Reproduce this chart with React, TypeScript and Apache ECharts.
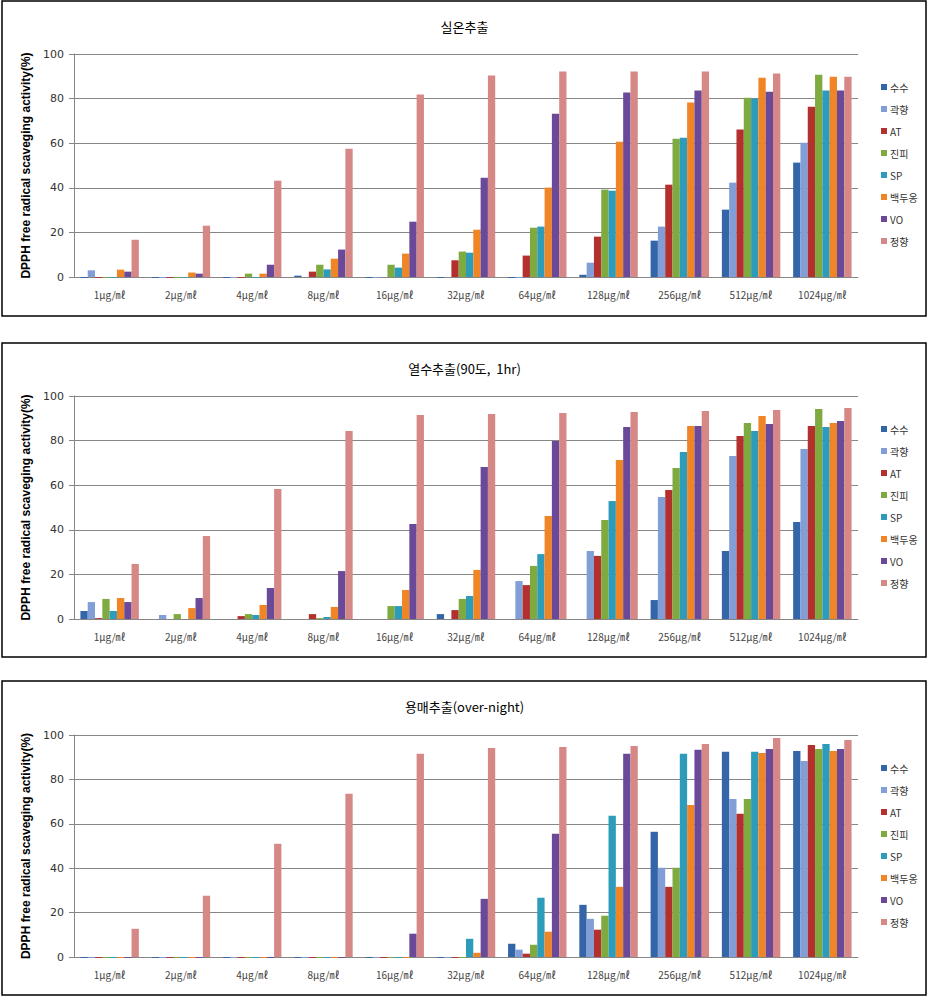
import React, { useEffect, useRef } from "react";
import * as echarts from "echarts";

const categories = ["1μg/㎖", "2μg/㎖", "4μg/㎖", "8μg/㎖", "16μg/㎖", "32μg/㎖", "64μg/㎖", "128μg/㎖", "256μg/㎖", "512μg/㎖", "1024μg/㎖"];
const seriesNames = ["수수", "곽향", "AT", "진피", "SP", "백두옹", "VO", "정향"];
const seriesColors = ["#3465A8", "#819FD6", "#B3302E", "#7EAA3F", "#2D9CBA", "#F08526", "#6A4A98", "#D68886"];
const panelTitles = ["실온추출", "열수추출(90도,  1hr)", "용매추출(over-night)"];
const yTicks = [0, 20, 40, 60, 80, 100];

// Panel 1: 실온추출
const room_susu = [-0.4, -0.4, -0.4, 0.6, -0.4, -0.4, -0.4, 1, 16.3, 30.2, 51.3];
const room_gwak = [3, -0.4, -0.4, 0, -0.4, 0, -0.4, 6.4, 22.6, 42.3, 60.2];
const room_at = [-0.4, -0.4, -0.4, 2.4, 0, 7.5, 9.6, 18.1, 41.4, 66.1, 76.4];
const room_jinpi = [-0.3, -0.3, 1.5, 5.5, 5.5, 11.4, 22.1, 39.2, 62, 80.4, 90.7];
const room_sp = [-0.3, -0.3, -0.3, 3.4, 4.2, 10.9, 22.6, 38.7, 62.5, 80, 83.6];
const room_baek = [3.3, 2, 1.5, 8.2, 10.5, 21.2, 40.1, 60.7, 78.2, 89.4, 89.8];
const room_vo = [2.4, 1.5, 5.5, 12.3, 24.8, 44.5, 73.2, 82.7, 83.6, 83.1, 83.6];
const room_jeong = [16.7, 23, 43.2, 57.5, 81.8, 90.4, 92.1, 92.1, 92.1, 91.2, 89.8];

// Panel 2: 열수추출
const hot_susu = [3.6, 0, 0, 0, 0, 2.2, 0, 0, 8.5, 30.5, 43.5];
const hot_gwak = [7.6, 1.8, 0, 0, 0, 0, 17, 30.5, 54.7, 73.1, 76.2];
const hot_at = [0.4, 0, 1.3, 2.2, 0, 4, 15.2, 28.3, 57.8, 82.1, 86.5];
const hot_jinpi = [9, 2.2, 2.2, 0.4, 5.8, 9, 23.8, 44.4, 67.7, 87.9, 94.2];
const hot_sp = [3.6, 0, 1.8, 0.9, 5.8, 10.3, 29.1, 52.9, 74.9, 84.3, 86.1];
const hot_baek = [9.4, 4.9, 6.3, 5.4, 13, 22, 46.2, 71.3, 86.5, 91, 87.9];
const hot_vo = [7.6, 9.4, 13.9, 21.5, 42.6, 68.2, 79.8, 86.1, 86.5, 87.4, 88.8];
const hot_jeong = [24.7, 37.2, 58.3, 84.3, 91.5, 91.9, 92.4, 92.8, 93.3, 93.7, 94.6];

// Panel 3: 용매추출
const sol_susu = [-0.4, -0.4, -0.4, -0.4, -0.4, -0.4, 6, 23.5, 56.4, 92.4, 92.8];
const sol_gwak = [-0.4, -0.4, -0.4, -0.4, -0.4, -0.4, 3.3, 17.2, 40.2, 71.2, 88.3];
const sol_at = [-0.4, -0.4, -0.4, -0.4, -0.4, -0.4, 1.5, 12.3, 31.6, 64.5, 95.5];
const sol_jinpi = [-0.4, -0.4, -0.4, -0.4, -0.4, -0.4, 5.5, 18.6, 40.2, 71.2, 93.7];
const sol_sp = [-0.4, -0.4, -0.4, -0.4, -0.4, 8.2, 26.7, 63.6, 91.5, 92.4, 96];
const sol_baek = [-0.4, -0.4, -0.4, -0.4, -0.4, 1.9, 11.4, 31.6, 68.5, 91.9, 92.8];
const sol_vo = [-0.4, -0.4, -0.4, -0.4, 10.5, 26.2, 55.5, 91.5, 93.3, 93.7, 93.7];
const sol_jeong = [12.7, 27.6, 51, 73.5, 91.5, 94.2, 94.6, 95, 96, 98.7, 97.8];

const panelData = [
  [room_susu, room_gwak, room_at, room_jinpi, room_sp, room_baek, room_vo, room_jeong],
  [hot_susu, hot_gwak, hot_at, hot_jinpi, hot_sp, hot_baek, hot_vo, hot_jeong],
  [sol_susu, sol_gwak, sol_at, sol_jinpi, sol_sp, sol_baek, sol_vo, sol_jeong],
];

const KR = "'Noto Sans CJK KR', 'Noto Sans', sans-serif";

export default function App() {
  const ref = useRef<HTMLDivElement>(null);
  useEffect(() => {
    if (!ref.current) return;
    const chart = echarts.init(ref.current, null, { renderer: "svg" });
    const panels = [
      { top: 1, h: 315, gridTop: 54, gridH: 223, titleY: 15, legendTop: 76 },
      { top: 343, h: 314, gridTop: 396, gridH: 223, titleY: 357, legendTop: 418 },
      { top: 681, h: 314, gridTop: 735, gridH: 222, titleY: 695, legendTop: 757 },
    ];
    const grid: any[] = [];
    const xAxis: any[] = [];
    const yAxis: any[] = [];
    const title: any[] = [];
    const legend: any[] = [];
    const series: any[] = [];
    const graphic: any[] = [];
    panels.forEach((p, i) => {
      graphic.push({
        type: "rect",
        shape: { x: 2, y: p.top, width: 924, height: p.h },
        style: { fill: "none", stroke: "#000", lineWidth: 1.5 },
        silent: true,
      });
      grid.push({ left: 74, width: 784, top: p.gridTop, height: p.gridH });
      title.push({
        text: panelTitles[i],
        left: "center",
        top: p.titleY,
        textStyle: { fontFamily: KR, fontSize: 13, fontWeight: "normal", color: "#000" },
      });
      xAxis.push({
        type: "category",
        gridIndex: i,
        data: categories,
        axisLine: { lineStyle: { color: "#868686" } },
        axisTick: { show: false },
        axisLabel: { fontFamily: KR, fontSize: 10, color: "#444", margin: 12, interval: 0 },
      });
      yAxis.push({
        type: "value",
        gridIndex: i,
        min: 0,
        max: 100,
        interval: 20,
        name: "DPPH free radical scaveging activity(%)",
        nameLocation: "middle",
        nameGap: 41,
        nameTextStyle: { fontFamily: "'Liberation Sans', Arial, sans-serif", fontSize: 12, fontWeight: "bold", color: "#000" },
        axisLine: { show: true, lineStyle: { color: "#868686" } },
        axisTick: { show: true, length: 5, lineStyle: { color: "#868686" } },
        axisLabel: { fontFamily: "'DejaVu Sans', sans-serif", fontSize: 11, color: "#333", margin: 10,
          formatter: (v: number) => (yTicks.includes(v) ? String(v) : "") },
        splitLine: { lineStyle: { color: "#868686" } },
      });
      legend.push({
        orient: "vertical",
        left: 876,
        top: p.legendTop,
        itemWidth: 6,
        itemHeight: 6,
        itemGap: 10,
        icon: "rect",
        data: seriesNames,
        textStyle: { fontFamily: KR, fontSize: 10, color: "#333", lineHeight: 12, padding: [0, 0, 0, -2] },
        selectedMode: false,
      });
      seriesNames.forEach((name, s) => {
        series.push({
          name,
          type: "bar",
          xAxisIndex: i,
          yAxisIndex: i,
          data: panelData[i][s],
          barGap: "0%",
          barCategoryGap: "18%",
          clip: false,
          itemStyle: { color: seriesColors[s] },
        });
      });
    });
    chart.setOption({
      animation: false,
      backgroundColor: "#fff",
      title,
      grid,
      xAxis,
      yAxis,
      legend,
      series,
      graphic,
    });
    return () => chart.dispose();
  }, []);
  return <div ref={ref} style={{ position: "absolute", left: 0, top: 0, width: 929, height: 998 }} />;
}
